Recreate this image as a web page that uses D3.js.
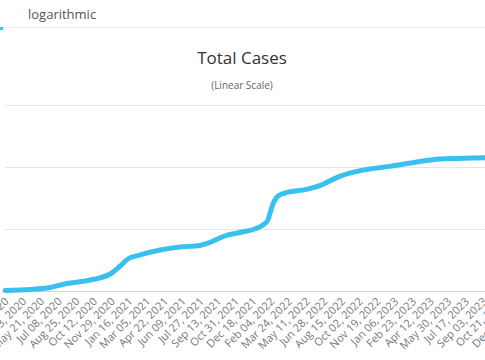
<!DOCTYPE html>
<html><head><meta charset="utf-8">
<script src="https://cdn.jsdelivr.net/npm/d3@7/dist/d3.min.js"></script>
<style>
html,body{margin:0;padding:0;background:#fff;overflow:hidden;}
svg{display:block;font-family:"Open Sans","Lucida Grande",sans-serif;}
</style></head>
<body>
<svg id="chart" width="485" height="360"></svg>
<script>
// ---- data ----
const dates = ["2020-02-15","2020-04-23","2020-06-16","2020-08-01","2020-09-19","2020-10-29","2020-11-26","2020-12-23","2021-01-13","2021-02-15","2021-04-10","2021-06-03","2021-07-27","2021-08-23","2021-10-02","2021-11-12","2021-12-23","2022-01-13","2022-01-27","2022-02-03","2022-02-10","2022-02-20","2022-03-03","2022-03-14","2022-05-12","2022-06-17","2022-08-10","2022-10-11","2022-12-23","2023-03-07","2023-05-08","2023-07-15","2023-09-20","2023-12-11"];
const totalCases = [0.08e6,0.24e6,0.56e6,1.21e6,1.61e6,2.10e6,2.74e6,4.03e6,5.16e6,5.81e6,6.61e6,7.10e6,7.34e6,7.82e6,8.87e6,9.44e6,10.0e6,10.6e6,11.4e6,12.7e6,14.0e6,15.1e6,15.55e6,15.8e6,16.4e6,17.0e6,18.5e6,19.5e6,20.1e6,20.8e6,21.3e6,21.4e6,21.5e6,21.55e6];
const yTicks = [0,10e6,20e6,30e6];
const xTickLabels = ["Feb 15, 2020","Apr 03, 2020","May 21, 2020","Jul 08, 2020","Aug 25, 2020","Oct 12, 2020","Nov 29, 2020","Jan 16, 2021","Mar 05, 2021","Apr 22, 2021","Jun 09, 2021","Jul 27, 2021","Sep 13, 2021","Oct 31, 2021","Dec 18, 2021","Feb 04, 2022","Mar 24, 2022","May 11, 2022","Jun 28, 2022","Aug 15, 2022","Oct 02, 2022","Nov 19, 2022","Jan 06, 2023","Feb 23, 2023","Apr 12, 2023","May 30, 2023","Jul 17, 2023","Sep 03, 2023","Oct 21, 2023","Dec 08, 2023"];

// ---- layout ----
const W = 485, H = 360;
const parse = d3.timeParse("%Y-%m-%d");
const parseLbl = d3.timeParse("%b %d, %Y");
const x0 = parse("2020-02-15"), x1 = parse("2024-02-15");
const pxPerDay = 0.369;
const x = d3.scaleTime().domain([x0, x1]).range([5, 5 + pxPerDay * (x1 - x0) / 864e5]);
const y = d3.scaleLinear().domain([0, 30e6]).range([291, 105]);

const svg = d3.select("#chart");

// tabs header
svg.append("text").attr("x", 28).attr("y", 19).attr("font-size", 13).attr("fill", "#555").text("logarithmic");
svg.append("line").attr("x1", 0).attr("x2", W).attr("y1", 27.5).attr("y2", 27.5).attr("stroke", "#eee");
svg.append("rect").attr("x", 0).attr("y", 27).attr("width", 3).attr("height", 3).attr("fill", "#3ac0ee");

// titles
svg.append("text").attr("x", 242).attr("y", 64).attr("text-anchor", "middle").attr("font-size", 17).attr("fill", "#333").text("Total Cases");
svg.append("text").attr("x", 242).attr("y", 89).attr("text-anchor", "middle").attr("font-size", 10).attr("fill", "#666").text("(Linear Scale)");

// grid
const gAxisY = svg.append("g").attr("transform", "translate(5,0)")
  .call(d3.axisRight(y).tickValues(yTicks.slice(1)).tickSize(W).tickFormat(""));
gAxisY.select(".domain").remove();
gAxisY.selectAll(".tick line").attr("stroke", "#e6e6e6");

// x axis
const gX = svg.append("g").attr("transform", "translate(0,291)")
  .call(d3.axisBottom(x).tickValues(xTickLabels.map(parseLbl)).tickSize(0).tickFormat(d3.timeFormat("%b %d, %Y")));
gX.select(".domain").attr("stroke", "#ccd6eb");
gX.selectAll(".tick text")
  .attr("font-family", "'Open Sans', sans-serif")
  .attr("font-size", 11).attr("fill", "#777")
  .attr("text-anchor", "end").attr("dy", null).attr("y", 0)
  .attr("transform", "translate(4,11) rotate(-45)");

// line
const data = dates.map((d, i) => ({date: parse(d), v: totalCases[i]}));
svg.append("path").datum(data)
  .attr("fill", "none").attr("stroke", "#3ac0ee").attr("stroke-width", 5)
  .attr("stroke-linecap", "round").attr("stroke-linejoin", "round")
  .attr("d", d3.line().x(d => x(d.date)).y(d => y(d.v)).curve(d3.curveMonotoneX));
</script>
</body></html>
